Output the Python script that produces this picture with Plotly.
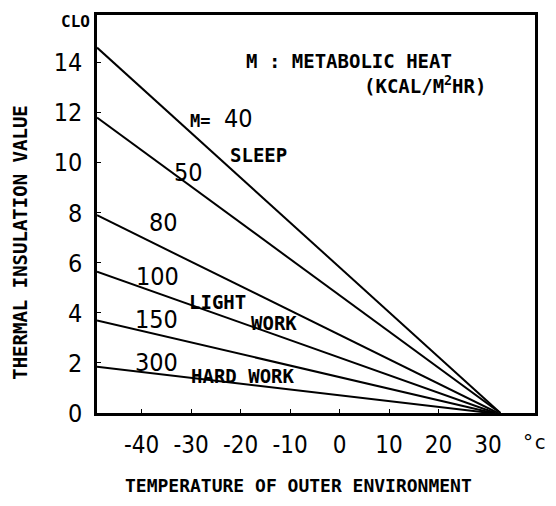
import plotly.graph_objects as go

# Isolation (clo) som funktion av yttertemperatur för olika metabolisk värme
metabolic = [40, 50, 80, 100, 150, 300]
clo_start = [14.6, 11.8, 7.9, 5.65, 3.7, 1.85]
temp_zero = [32.5, 32.5, 32, 31.5, 31, 30.5]
temp_start = -49

x_ticks = [-40, -30, -20, -10, 0, 10, 20, 30]
x_ticktext = ["-40", "-30", "-20", "-10", "0", "10", "20", "30"]
y_ticks = [0, 2, 4, 6, 8, 10, 12, 14]

# etiketter i diagrammet: (text, x, y, typ)
labels = [
    ("M=", -28.1, 11.65, "small"),
    ("40", -20.4, 11.75, "num"),
    ("SLEEP", -16.4, 10.3, "word"),
    ("50", -30.5, 9.6, "num"),
    ("80", -35.6, 7.6, "num"),
    ("100", -36.8, 5.45, "num"),
    ("LIGHT", -24.7, 4.43, "word"),
    ("WORK", -13.2, 3.59, "word"),
    ("150", -37.0, 3.72, "num"),
    ("300", -37.0, 2.0, "num"),
    ("HARD WORK", -19.4, 1.48, "word"),
]

NUM_FONT = "DejaVu Sans Condensed, Liberation Sans"
MONO = "DejaVu Sans Mono"

fig = go.Figure()
for m, c0, t0 in zip(metabolic, clo_start, temp_zero):
    fig.add_trace(go.Scatter(
        x=[temp_start, t0], y=[c0, 0], mode="lines",
        line=dict(color="black", width=2), name=f"M={m}",
        showlegend=False, hoverinfo="skip",
    ))

for text, x, y, kind in labels:
    if kind == "num":
        font = dict(family=NUM_FONT, size=25, color="black")
    elif kind == "small":
        font = dict(family=MONO, size=17, color="black", weight="bold")
    else:
        font = dict(family=MONO, size=19, color="black", weight="bold")
    fig.add_annotation(x=x, y=y, text=text, showarrow=False, font=font)

fig.add_annotation(x=2.0, y=14.05, text="M : METABOLIC HEAT", showarrow=False,
                   font=dict(family=MONO, size=19, color="black", weight="bold"))
fig.add_annotation(x=17.3, y=13.1, text="(KCAL/M<sup>2</sup>HR)", showarrow=False,
                   font=dict(family=MONO, size=19, color="black", weight="bold"))
fig.add_annotation(xref="paper", yref="paper", x=-0.05, y=1.012,
                   xanchor="center", yanchor="top", text="CLO", showarrow=False,
                   font=dict(family=MONO, size=16, color="black", weight="bold"))
fig.add_annotation(xref="paper", yref="paper", x=1.029, y=-0.073,
                   xanchor="right", yanchor="middle", text="°c", showarrow=False,
                   font=dict(family=MONO, size=20, color="black"))

# axeltitlar
fig.add_annotation(xref="paper", yref="paper", x=-0.176, y=0.43,
                   xanchor="center", yanchor="middle",
                   text="THERMAL INSULATION VALUE", textangle=-90, showarrow=False,
                   font=dict(family=MONO, size=19, color="black", weight="bold"))
fig.add_annotation(xref="paper", yref="paper", x=0.46, y=-0.211,
                   xanchor="center", yanchor="bottom", borderpad=0,
                   text="TEMPERATURE OF OUTER ENVIRONMENT", showarrow=False,
                   font=dict(family=MONO, size=18, color="black", weight="bold"))

fig.update_xaxes(
    range=[-49, 39.5], tickvals=x_ticks, ticktext=x_ticktext, ticks="inside",
    ticklen=4, tickcolor="black", showline=True, linecolor="black",
    linewidth=2.5, mirror=True, showgrid=False, zeroline=False,
    ticklabelstandoff=8, tickangle=0, automargin=False,
    tickfont=dict(family=NUM_FONT, size=24, color="black"),
)
fig.update_yaxes(
    range=[0, 15.9], tickvals=y_ticks, ticks="inside", ticklen=4,
    tickcolor="black", showline=True, linecolor="black", linewidth=2.5,
    mirror=True, showgrid=False, zeroline=False, ticklabelstandoff=7,
    automargin=False,
    tickfont=dict(family=NUM_FONT, size=25, color="black"),
)
# sidan har 8 px marginal i webbläsaren, så figuren görs lite mindre
fig.update_layout(
    width=540, height=490,
    margin=dict(l=89, r=13, t=7, b=85),
    plot_bgcolor="white", paper_bgcolor="white",
)
fig.write_html("out.html")
